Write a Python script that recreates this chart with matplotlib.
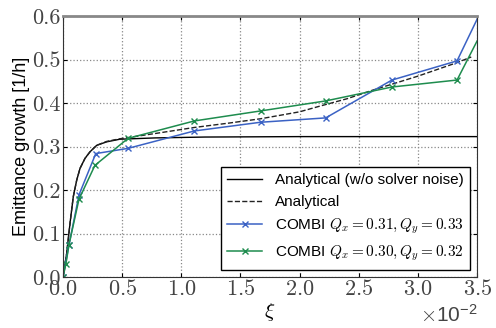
import numpy as np
import matplotlib
matplotlib.use('Agg')
import matplotlib.pyplot as plt

plt.rcParams['mathtext.fontset'] = 'cm'
plt.rcParams['font.family'] = ['Liberation Sans', 'DejaVu Sans']
plt.rcParams['axes.unicode_minus'] = False

# Analytisch (ohne Solver-Rauschen), x in 1e-2
xi_ana0 = np.array([0, 0.031, 0.059, 0.087, 0.116, 0.144, 0.186, 0.228, 0.285, 0.37,
                    0.48, 0.78, 1.2, 2.0, 3.5]) * 1e-2
eg_ana0 = [0, 0.054, 0.123, 0.185, 0.223, 0.25, 0.273, 0.288, 0.303, 0.311,
           0.317, 0.320, 0.322, 0.323, 0.323]

# Analytisch
xi_ana = np.array([0, 0.031, 0.059, 0.087, 0.116, 0.144, 0.186, 0.228, 0.285, 0.37,
                   0.48, 0.8, 1.11, 1.4, 1.67, 2.0, 2.17, 2.4, 2.62, 3.0, 3.33, 3.45]) * 1e-2
eg_ana = [0, 0.054, 0.123, 0.185, 0.223, 0.25, 0.273, 0.288, 0.303, 0.312,
          0.318, 0.331, 0.344, 0.354, 0.364, 0.38, 0.393, 0.41, 0.43, 0.462, 0.493, 0.506]

# COMBI Qx=0.31, Qy=0.33
xi_c1 = np.array([0, 0.05, 0.135, 0.277, 0.55, 1.11, 1.67, 2.22, 2.78, 3.33, 3.5]) * 1e-2
eg_c1 = [0, 0.073, 0.189, 0.284, 0.296, 0.336, 0.356, 0.366, 0.453, 0.497, 0.593]

# COMBI Qx=0.30, Qy=0.32
xi_c2 = np.array([0, 0.025, 0.05, 0.135, 0.27, 0.55, 1.11, 1.67, 2.22, 2.78, 3.33, 3.5]) * 1e-2
eg_c2 = [0, 0.031, 0.074, 0.179, 0.257, 0.319, 0.359, 0.382, 0.405, 0.437, 0.453, 0.543]

fig = plt.figure(figsize=(4.96, 3.28), dpi=100)
ax = fig.add_axes([0.127, 0.155, 0.835, 0.796])

ax.plot(xi_ana0, eg_ana0, '-', color='black', lw=1.0, label='Analytical (w/o solver noise)')
ax.plot(xi_ana, eg_ana, '--', color='#222222', lw=1.0, label='Analytical')
ax.plot(xi_c1, eg_c1, '-x', color='#3b62c4', lw=1.1, ms=4, mew=1,
        markevery=slice(0, len(xi_c1) - 1),
        label='COMBI $Q_x = 0.31, Q_y = 0.33$')
ax.plot(xi_c2, eg_c2, '-x', color='#1e8c4e', lw=1.1, ms=4, mew=1,
        markevery=slice(0, len(xi_c2) - 1),
        label='COMBI $Q_x = 0.30, Q_y = 0.32$')

ax.set_xlim(0, 0.035)
ax.set_ylim(0, 0.6)
ax.set_xticks(np.arange(0, 0.0351, 0.005))
ax.set_yticks(np.arange(0, 0.61, 0.1))
ax.ticklabel_format(style='sci', axis='x', scilimits=(-2, -2), useMathText=True)
ax.tick_params(direction='in', labelsize=16, labelcolor='#444444', top=True, right=True,
               length=3, pad=1.5)
for lab in ax.get_xticklabels() + ax.get_yticklabels():
    lab.set_fontfamily('cmr10')
ax.xaxis.get_offset_text().set_fontsize(15)
ax.xaxis.get_offset_text().set_color('#444444')

ax.grid(True, linestyle=':', color='#888888', lw=0.9)
ax.spines['top'].set_color('#888888')
ax.spines['top'].set_linewidth(2)
for s in ['left', 'bottom', 'right']:
    ax.spines[s].set_color('#333333')

ax.set_xlabel(r'$\xi$', fontsize=15, labelpad=1)
ax.set_ylabel('Emittance growth [1/h]', fontsize=13, labelpad=2)

leg = ax.legend(loc='lower right', fontsize=11, fancybox=False, framealpha=1,
                edgecolor='black', handlelength=2.3, borderaxespad=0.5)
leg.get_frame().set_linewidth(1.0)

fig.savefig('out.png', dpi=100)
